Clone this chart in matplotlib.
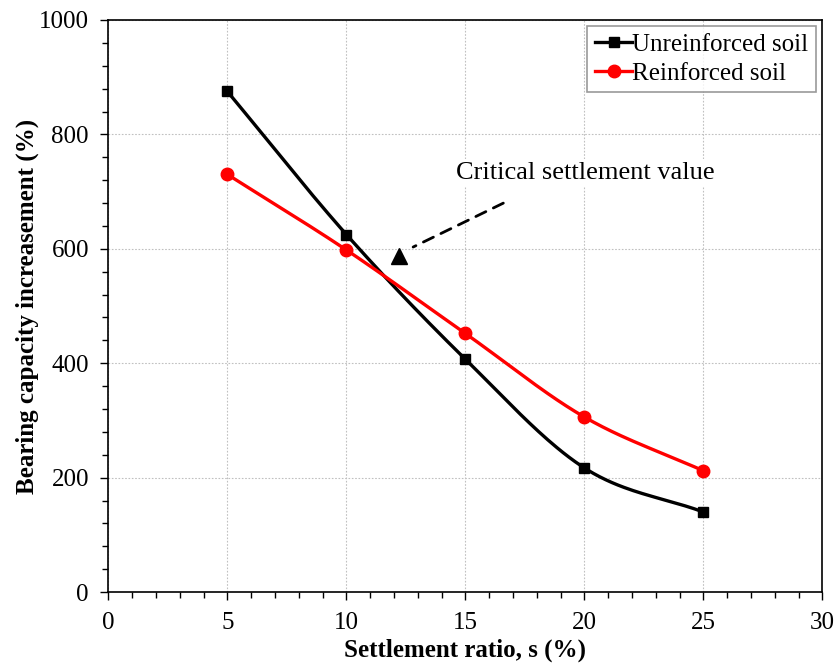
import matplotlib
matplotlib.use("Agg")
import matplotlib.pyplot as plt
import matplotlib.ticker as mticker
import numpy as np

# data
settlement = [5, 10, 15, 20, 25]
unreinforced = [875, 625, 407, 217, 140]
reinforced = [730, 598, 452, 306, 212]

critical_point = (12.2, 588)


def smooth(x, y, n=40):
    """Catmull-Rom curve through the points (Excel-style smoothed line)."""
    x = np.asarray(x, float)
    y = np.asarray(y, float)
    px = np.concatenate([[2 * x[0] - x[1]], x, [2 * x[-1] - x[-2]]])
    py = np.concatenate([[2 * y[0] - y[1]], y, [2 * y[-1] - y[-2]]])
    xs, ys = [], []
    t = np.linspace(0, 1, n)
    for i in range(1, len(px) - 2):
        for p, out in ((px, xs), (py, ys)):
            p0, p1, p2, p3 = p[i - 1], p[i], p[i + 1], p[i + 2]
            seg = 0.5 * ((2 * p1) + (-p0 + p2) * t
                         + (2 * p0 - 5 * p1 + 4 * p2 - p3) * t ** 2
                         + (-p0 + 3 * p1 - 3 * p2 + p3) * t ** 3)
            out.extend(seg)
    return np.array(xs), np.array(ys)


plt.rcParams["font.family"] = ["Liberation Serif", "DejaVu Serif"]

fig, ax = plt.subplots(figsize=(8.34, 6.66), dpi=100)
fig.subplots_adjust(left=0.13, right=0.986, top=0.97, bottom=0.111)

ux, uy = smooth(settlement, unreinforced)
rx, ry = smooth(settlement, reinforced)

ax.plot(ux, uy, color="black", lw=2.4, zorder=3)
ax.plot(settlement, unreinforced, "s", color="black", ms=7, zorder=4)
ax.plot(rx, ry, color="red", lw=2.4, zorder=3)
ax.plot(settlement, reinforced, "o", color="red", ms=9, zorder=4)

# legend proxies (line + marker)
ax.plot([], [], "-s", color="black", lw=2.4, ms=7, label="Unreinforced soil")
ax.plot([], [], "-o", color="red", lw=2.4, ms=9, label="Reinforced soil")

ax.plot(*critical_point, marker="^", color="black", ms=11, ls="none", zorder=5)
ax.annotate("", xy=(12.7, 601), xytext=(16.7, 682),
            arrowprops=dict(arrowstyle="-", ls=(0, (4, 3)), lw=2, color="black"))
ax.text(14.6, 732, "Critical settlement value", fontsize=19, va="center", ha="left",
        bbox=dict(facecolor="white", edgecolor="none", pad=2), zorder=2)

ax.set_xlim(0, 30)
ax.set_ylim(0, 1000)
ax.xaxis.set_major_locator(mticker.MultipleLocator(5))
ax.xaxis.set_minor_locator(mticker.MultipleLocator(1))
ax.yaxis.set_major_locator(mticker.MultipleLocator(200))
ax.yaxis.set_minor_locator(mticker.MultipleLocator(40))
ax.tick_params(which="major", direction="out", length=6, width=1, labelsize=18, pad=8)
ax.tick_params(which="minor", direction="out", length=4.5, width=1)
ax.grid(True, which="major", color="#c0c0c0", ls=(0, (1.5, 1.5)), lw=0.8)
ax.set_axisbelow(True)
for s in ax.spines.values():
    s.set_linewidth(1.2)

ax.set_xlabel("Settlement ratio, s (%)", fontsize=18, fontweight="bold", labelpad=4)
ax.set_ylabel("Bearing capacity increasement (%)", fontsize=18, fontweight="bold", labelpad=0)

leg = ax.legend(loc="upper right", fontsize=18, frameon=True, fancybox=False,
                handlelength=1.5, handletextpad=0.0, borderpad=0.3, labelspacing=0.25,
                borderaxespad=0.25)
leg.get_frame().set_edgecolor("#808080")
leg.get_frame().set_linewidth(1.2)

fig.savefig("out.png", dpi=100)
